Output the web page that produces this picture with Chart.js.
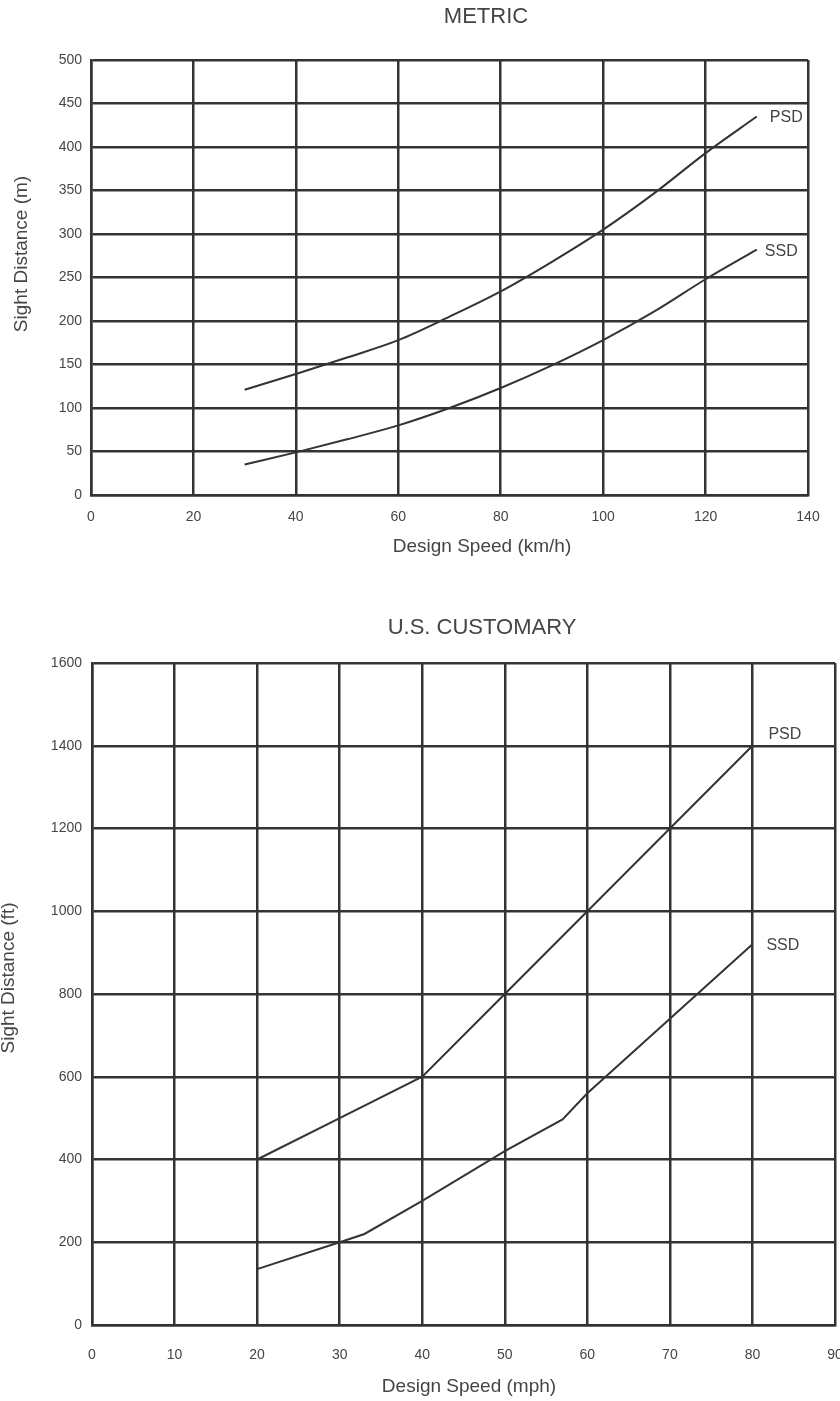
<!DOCTYPE html>
<html>
<head>
<meta charset="utf-8">
<script src="https://cdn.jsdelivr.net/npm/chart.js@4.4.1/dist/chart.umd.min.js"></script>
<style>
  html, body { margin: 0; padding: 0; background: #fff; overflow: hidden; }
  .wrap { position: absolute; left: 0; width: 840px; }
  .wrap canvas { display: block; }
  #metric-wrap { top: 0; height: 580px; }
  #us-wrap { top: 590px; height: 811px; }
</style>
</head>
<body>
<div class="wrap" id="metric-wrap"><canvas id="metric-chart" width="840" height="580"></canvas></div>
<div class="wrap" id="us-wrap"><canvas id="us-chart" width="840" height="811"></canvas></div>
<script>
// Metric chart (km/h vs m)
const metricSpeeds = [30, 40, 50, 60, 70, 80, 90, 100, 110, 120, 130];
const metricPSD = [121, 139, 158, 178, 205, 234, 268, 305, 347, 393, 435];
const metricSSD = [35, 49, 64, 80, 100, 123, 149, 178, 211, 248, 282];

// US customary chart (mph vs ft)
const usPSDSpeeds = [20, 30, 40, 50, 60, 70, 80];
const usPSD = [400, 500, 600, 800, 1000, 1200, 1400];
const usSSDSpeeds = [20, 30, 33, 40, 50, 57, 60, 70, 80];
const usSSD = [135, 200, 220, 300, 420, 497, 560, 740, 920];

const INK = '#333333';
const TEXT = '#454545';
const FONT = "'Liberation Sans', Arial, sans-serif";

const toPoints = (xs, ys) => xs.map((x, i) => ({ x, y: ys[i] }));

/** Draws titles, axis titles and end-of-curve labels as canvas text. */
const textPlugin = {
  id: 'textLabels',
  afterDraw(chart, args, opts) {
    const ctx = chart.ctx;
    ctx.save();
    ctx.fillStyle = TEXT;
    ctx.textBaseline = 'middle';
    (opts.items || []).forEach(item => {
      ctx.font = `${item.size}px ${FONT}`;
      ctx.textAlign = item.align || 'center';
      let x = item.x, y = item.y;
      if (item.dataset !== undefined) {
        // anchor curve labels to the last point of their series
        const pts = chart.data.datasets[item.dataset].data;
        const last = pts[pts.length - 1];
        x = chart.scales.x.getPixelForValue(last.x) + item.dx;
        y = chart.scales.y.getPixelForValue(last.y) + item.dy;
      }
      ctx.save();
      ctx.translate(x, y);
      if (item.rotate) ctx.rotate(item.rotate);
      ctx.fillText(item.text, 0, 0);
      ctx.restore();
    });
    ctx.restore();
  }
};

function lineSet(label, data, smooth) {
  return {
    label, data,
    borderColor: INK,
    borderWidth: 2,
    pointRadius: 0,
    fill: false,
    cubicInterpolationMode: smooth ? 'monotone' : 'default',
    tension: 0
  };
}

function axis(min, max, step, yAxis, size, labelPad) {
  return {
    type: 'linear',
    min, max,
    afterFit: s => {
      // fixed box sizes, no extra padding for overflowing end labels
      if (yAxis) { s.width = size; s.paddingTop = 0; s.paddingBottom = 0; }
      else { s.height = size; s.paddingLeft = 0; s.paddingRight = 0; }
    },
    ticks: {
      stepSize: step,
      padding: labelPad,
      color: TEXT,
      font: { family: FONT, size: 14 },
      maxRotation: 0,
      autoSkip: false,
      callback: v => String(v)
    },
    grid: { color: INK, lineWidth: 2.5, drawTicks: false },
    border: { display: true, color: INK, width: 2.5 }
  };
}

new Chart(document.getElementById('metric-chart'), {
  type: 'line',
  data: {
    datasets: [
      lineSet('PSD', toPoints(metricSpeeds, metricPSD), true),
      lineSet('SSD', toPoints(metricSpeeds, metricSSD), true)
    ]
  },
  options: {
    responsive: false,
    animation: false,
    layout: { padding: { left: 0, right: 32, top: 60, bottom: 0 } },
    scales: {
      x: axis(0, 140, 20, false, 85, 14),
      y: axis(0, 500, 50, true, 91, 9)
    },
    plugins: {
      legend: { display: false },
      tooltip: { enabled: false },
      textLabels: {
        items: [
          { text: 'METRIC', x: 486, y: 17, size: 22 },
          { text: 'Design Speed (km/h)', x: 482, y: 547, size: 19 },
          { text: 'Sight Distance (m)', x: 22, y: 254, size: 19, rotate: -Math.PI / 2 },
          { text: 'PSD', dataset: 0, dx: 13, dy: 1, size: 16, align: 'left' },
          { text: 'SSD', dataset: 1, dx: 8, dy: 2, size: 16, align: 'left' }
        ]
      }
    }
  },
  plugins: [textPlugin]
});

new Chart(document.getElementById('us-chart'), {
  type: 'line',
  data: {
    datasets: [
      lineSet('PSD', toPoints(usPSDSpeeds, usPSD), false),
      lineSet('SSD', toPoints(usSSDSpeeds, usSSD), false)
    ]
  },
  options: {
    responsive: false,
    animation: false,
    layout: { padding: { left: 0, right: 5, top: 73, bottom: 0 } },
    scales: {
      x: axis(0, 90, 10, false, 76, 22),
      y: axis(0, 1600, 200, true, 92, 10)
    },
    plugins: {
      legend: { display: false },
      tooltip: { enabled: false },
      textLabels: {
        items: [
          { text: 'U.S. CUSTOMARY', x: 482, y: 38, size: 22 },
          { text: 'Design Speed (mph)', x: 469, y: 797, size: 19 },
          { text: 'Sight Distance (ft)', x: 9, y: 388, size: 19, rotate: -Math.PI / 2 },
          { text: 'PSD', dataset: 0, dx: 16, dy: -11, size: 16, align: 'left' },
          { text: 'SSD', dataset: 1, dx: 14, dy: 1, size: 16, align: 'left' }
        ]
      }
    }
  },
  plugins: [textPlugin]
});
</script>
</body>
</html>
